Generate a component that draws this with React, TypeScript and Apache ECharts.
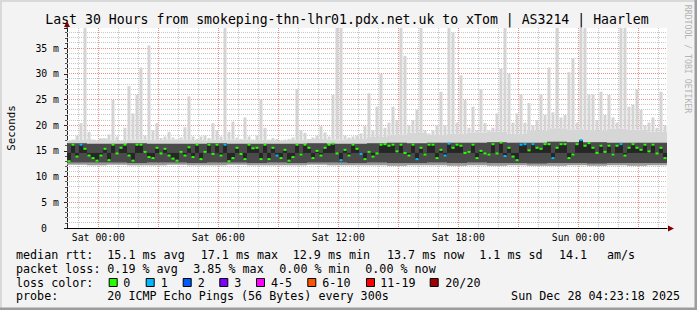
import React, { useEffect, useRef } from "react";
import * as echarts from "echarts";

const MONO = '"DejaVu Sans Mono", monospace';

const titleText = "Last 30 Hours from smokeping-thn-lhr01.pdx.net.uk to xTom | AS3214 | Haarlem";
const watermarkText = "RRDTOOL / TOBI OETIKER";
const yAxisTitle = "Seconds";

// time axis in hours relative to Sat 00:00
const startHour = -1.5667;
const spanHours = 30;
const slotHours = 0.2; // 12-minute slots
const slotsPerHour = 5;

// median RTT per 12-minute slot (ms)
const medianMs = [
  13.0, 16.2, 13.9, 16.2, 15.4, 14.1, 13.6, 13.1, 14.1, 15.4,
  13.2, 16.2, 14.5, 15.6, 16.2, 14.1, 13.1, 16.2, 16.2, 14.8,
  13.8, 13.6, 15.6, 14.5, 15.4, 14.1, 13.5, 13.1, 14.8, 14.1,
  15.7, 13.8, 16.2, 13.4, 14.8, 16.2, 14.4, 16.2,
  14.1, 16.2, 13.0, 13.6, 15.6, 14.4, 13.4, 16.2, 15.5, 15.6,
  13.4, 16.2, 13.4, 15.6, 14.1, 13.6, 15.2, 13.1, 13.8, 16.2,
  14.3, 16.2, 15.6, 13.6, 15.0, 14.1, 15.6, 16.2, 16.4, 14.5,
  13.2, 15.2, 14.1, 16.2, 15.4, 14.4, 13.4, 14.8,
  13.9, 14.5, 16.2, 16.3, 16.0, 16.2, 14.9, 16.2, 14.6, 14.1,
  16.2, 13.4, 15.6, 14.3, 16.2, 16.2, 13.6, 15.2, 14.1, 16.4,
  15.6, 16.2, 16.0, 14.6, 14.8, 16.2, 13.6, 15.0, 14.5, 14.3,
  16.3, 14.5, 16.6, 14.0, 15.6, 13.9, 13.2,
  16.2, 16.3, 15.1, 16.3, 15.6, 15.4, 16.3, 16.3, 13.6, 15.6,
  16.3, 16.3, 13.6, 14.3, 16.3, 17.1, 16.0, 16.5, 15.6, 14.6,
  16.0, 14.8, 16.0, 14.3, 16.0, 16.3, 14.1, 15.6, 16.3, 15.6,
  15.2, 16.2, 14.9, 16.2, 14.5, 15.6, 13.6,
];

// highest ping per slot (ms); values above the axis top are clipped
const maxMs = [
  17.0, 17.2, 18.0, 20.4, 42, 18.7, 17.2, 17.0, 17.5, 17.5,
  18.2, 24.9, 17.8, 17.0, 19.5, 27.6, 22.3, 25.9, 31.2, 18.0,
  35.5, 19.0, 20.4, 17.5, 17.8, 18.7, 17.6, 17.3, 17.6, 19.6,
  25.6, 17.8, 17.3, 17.8, 18.0, 17.5, 20.4, 19.0,
  17.8, 42, 18.7, 20.7, 17.6, 17.3, 21.5, 17.8, 17.2, 18.0,
  25.0, 19.5, 17.2, 17.5, 17.3, 17.0, 17.2, 17.3, 17.6, 27.0,
  19.0, 18.5, 17.3, 17.6, 18.0, 19.8, 18.6, 17.8, 25.9, 42,
  42, 18.0, 17.6, 17.8, 18.0, 18.4, 19.8, 26.2,
  19.0, 23.6, 30.0, 19.5, 20.5, 23.6, 21.0, 42, 33.5, 20.0,
  21.0, 23.0, 42, 19.0, 18.4, 19.0, 20.0, 26.5, 20.0, 42,
  38, 20.5, 29.7, 24.9, 19.5, 23.6, 19.0, 27.0, 20.4, 19.0,
  19.5, 22.3, 31.0, 42, 30.0, 20.5, 22.3,
  26.0, 20.5, 24.3, 20.0, 21.0, 26.0, 22.0, 31.2, 22.5, 42,
  21.5, 22.0, 30.3, 33.0, 20.5, 42, 42, 26.0, 26.0, 21.0,
  26.5, 22.0, 25.9, 21.5, 20.5, 42, 42, 23.6, 24.0, 27.0,
  23.0, 20.0, 20.5, 21.5, 19.5, 26.5, 20.0,
];

// slots whose median is drawn in the "1 lost" colour
const lossOneSlots = [3, 39, 52, 68, 73, 87, 94, 95, 109, 113, 114, 116, 121, 128, 138];

// hourly smoke envelope (ms)
const minHourly = [12.3, 12.2, 12.3, 12.2, 12.2, 12.3, 12.2, 12.2, 12.3, 12.2, 12.2, 12.2, 12.3, 12.2, 12.2, 12.2, 12.1, 12.2, 12.2, 12.1, 12.2, 12.1, 12.2, 12.1, 12.1, 12.2, 12.1, 12.2, 12.1, 12.2];
const bandLowHourly = [12.7, 12.7, 12.7, 12.6, 12.7, 12.7, 12.6, 12.7, 12.7, 12.6, 12.7, 12.6, 12.7, 12.7, 12.6, 12.7, 12.6, 12.6, 12.7, 12.6, 12.7, 12.6, 12.6, 12.5, 12.6, 12.6, 12.5, 12.6, 12.6, 12.6];
const bandHighHourly = [16.5, 16.4, 16.4, 16.5, 16.4, 16.4, 16.4, 16.5, 16.4, 16.4, 16.4, 16.4, 16.5, 16.4, 16.4, 16.5, 16.6, 16.5, 16.6, 16.6, 16.6, 16.7, 16.6, 16.6, 16.8, 16.7, 16.7, 16.6, 16.6, 16.6];
const upperHourly = [17.1, 17.4, 17.0, 17.2, 17.1, 17.2, 17.0, 17.1, 17.2, 17.0, 17.0, 17.1, 17.3, 17.2, 17.3, 17.7, 18.2, 18.5, 18.1, 18.3, 18.6, 18.7, 18.3, 18.9, 19.4, 19.2, 18.9, 19.3, 19.1, 18.7];

const yMax = 38.9;
const yInterval = 5;
const xLabelHours = [0, 6, 12, 18, 24];
const xLabelTexts = ["Sat 00:00", "Sat 06:00", "Sat 12:00", "Sat 18:00", "Sun 00:00"];

const rttRow = ["median rtt:", "15.1 ms avg", "17.1 ms max", "12.9 ms min", "13.7 ms now", "1.1 ms sd", "14.1", "am/s"];
const lossRow = ["packet loss:", "0.19 % avg", "3.85 % max", "0.00 % min", "0.00 % now"];
const lossColorTitle = "loss color:";
const lossLegendLabels = ["0", "1", "2", "3", "4-5", "6-10", "11-19", "20/20"];
const lossLegendColors = ["#26ff00", "#00b8ff", "#0059ff", "#7e00ff", "#ff00ff", "#ff5500", "#ff0000", "#a10000"];
const probeRow = ["probe:", "20 ICMP Echo Pings (56 Bytes) every 300s"];
const stampText = "Sun Dec 28 04:23:18 2025";

// layout (pixels)
const rttX = [16, 107.3, 200.7, 292.7, 387, 479.3, 559, 607];
const lossX = [16, 107.3, 193.3, 279.3, 365.3];
const swatchX = [108.7, 145.7, 182.7, 219.3, 256, 307.3, 366, 429.7];
const swatchLabelX = [123.3, 160.7, 197.7, 234.3, 271, 322.3, 380.3, 445.3];
const rowY = [255, 269, 283, 296];

const MINOR_GRID = "#c6c6c6";
const MAJOR_GRID = "#f29090";

export default function App() {
  const ref = useRef<HTMLDivElement>(null);

  useEffect(() => {
    const chart = echarts.init(ref.current!, null, { renderer: "svg" });

    const slotData = medianMs.map((m, i) => {
      const h = Math.floor(i / slotsPerHour);
      return [
        startHour + i * slotHours,
        startHour + (i + 1) * slotHours,
        minHourly[h],
        bandLowHourly[h],
        bandHighHourly[h],
        upperHourly[h],
        maxMs[i],
        m,
        lossOneSlots.includes(i) ? 1 : 0,
      ];
    });

    const hours: number[] = [];
    for (let h = Math.ceil(startHour); h < startHour + spanHours; h++) hours.push(h);
    const vGridData = hours.map((h) => [h, 0, Math.abs(h % 3) === 0 ? 1 : 0]);
    const msVals: number[] = [];
    for (let v = 1; v < yMax; v++) msVals.push(v);
    const hGridData = msVals.map((v) => [startHour, v, v % yInterval === 0 ? 1 : 0]);

    const txt = (text: string, x: number, y: number, extra: any = {}) => ({
      type: "text",
      x,
      y,
      silent: true,
      style: {
        text,
        fill: "#000",
        fontFamily: MONO,
        fontSize: 11.7,
        textAlign: "left",
        textVerticalAlign: "middle",
        ...extra,
      },
    });

    const graphics: any[] = [
      { type: "rect", shape: { x: 0, y: 0, width: 697, height: 2 }, style: { fill: "#d9d9d9" }, silent: true },
      { type: "rect", shape: { x: 0, y: 0, width: 2, height: 310 }, style: { fill: "#d9d9d9" }, silent: true },
      { type: "rect", shape: { x: 0, y: 307.5, width: 697, height: 2.5 }, style: { fill: "#9c9c9c" }, silent: true },
      { type: "rect", shape: { x: 694.5, y: 0, width: 2.5, height: 310 }, style: { fill: "#9c9c9c" }, silent: true },
      txt(titleText, 347, 19, { fontSize: 13.2, textAlign: "center" }),
      {
        type: "text",
        x: 688,
        y: 59,
        rotation: -Math.PI / 2,
        silent: true,
        style: { text: watermarkText, fill: "#b4b4b4", fontFamily: MONO, fontSize: 8.2, textAlign: "center", textVerticalAlign: "middle" },
      },
      { type: "rect", shape: { x: 66.5, y: 23, width: 1, height: 5 }, style: { fill: "#222" }, silent: true },
      { type: "polygon", shape: { points: [[64, 27], [70, 27], [67, 21]] }, style: { fill: "#7f0000" }, silent: true },
      { type: "polygon", shape: { points: [[668, 225.5], [668, 231.5], [674, 228.5]] }, style: { fill: "#7f0000" }, silent: true },
    ];
    rttRow.forEach((t, i) => graphics.push(txt(t, rttX[i], rowY[0])));
    lossRow.forEach((t, i) => graphics.push(txt(t, lossX[i], rowY[1])));
    graphics.push(txt(lossColorTitle, 16, rowY[2]));
    lossLegendLabels.forEach((t, i) => {
      graphics.push({
        type: "rect",
        silent: true,
        shape: { x: swatchX[i] + 0.5, y: 278.5, width: 8, height: 8 },
        style: { fill: lossLegendColors[i], stroke: "#000", lineWidth: 1 },
      });
      graphics.push(txt(t, swatchLabelX[i], rowY[2]));
    });
    graphics.push(txt(probeRow[0], 16, rowY[3]));
    graphics.push(txt(probeRow[1], 107.3, rowY[3]));
    graphics.push(txt(stampText, 680, rowY[3], { textAlign: "right" }));

    const option: any = {
      animation: false,
      backgroundColor: "#f3f3f3",
      grid: {
        left: 67,
        top: 28,
        width: 600,
        height: 200,
        show: true,
        backgroundColor: "#ffffff",
        borderWidth: 0,
        containLabel: false,
        outerBoundsMode: "none",
      },
      xAxis: {
        type: "value",
        min: startHour,
        max: startHour + spanHours,
        axisLine: { show: true, onZero: false, lineStyle: { color: "#000", width: 1 } },
        splitLine: { show: false },
        axisTick: { show: false },
        axisLabel: {
          customValues: xLabelHours,
          formatter: (v: number) => {
            const k = xLabelHours.indexOf(Math.round(v));
            return k >= 0 ? xLabelTexts[k] : "";
          },
          fontFamily: MONO,
          fontSize: 9.8,
          color: "#000",
          margin: 4,
        },
      },
      yAxis: {
        type: "value",
        min: 0,
        max: yMax,
        interval: yInterval,
        name: yAxisTitle,
        nameLocation: "middle",
        nameGap: 50,
        nameTextStyle: { fontFamily: MONO, fontSize: 10.8, color: "#000" },
        axisLine: { show: true, onZero: false, lineStyle: { color: "#222", width: 1 } },
        axisTick: { show: true, length: 3, lineStyle: { color: "#222" } },
        minorTick: { show: true, splitNumber: 5, length: 2, lineStyle: { color: "#555" } },
        splitLine: { show: false },
        axisLabel: {
          showMaxLabel: false,
          fontFamily: MONO,
          fontSize: 9.8,
          color: "#000",
          margin: 8,
          formatter: (v: number) => (v === 0 ? "{z|0}" : `${v} m`),
          rich: { z: { fontFamily: MONO, fontSize: 9.8, color: "#000", padding: [0, 12, 0, 0] } },
        },
      },
      series: [
        {
          type: "custom",
          z: 1,
          clip: false,
          silent: true,
          data: vGridData,
          renderItem: (params: any, api: any) => {
            const cs = params.coordSys;
            const px = api.coord([api.value(0), api.value(1)])[0];
            const x = Math.floor(px) + 0.5;
            return {
              type: "line",
              shape: { x1: x, y1: cs.y, x2: x, y2: cs.y + cs.height },
              style: { stroke: api.value(2) ? MAJOR_GRID : MINOR_GRID, lineWidth: 1, lineDash: [1, 1] },
            };
          },
        },
        {
          type: "custom",
          z: 1,
          clip: false,
          silent: true,
          data: hGridData,
          renderItem: (params: any, api: any) => {
            const cs = params.coordSys;
            const py = api.coord([api.value(0), api.value(1)])[1];
            const y = Math.floor(py) + 0.5;
            return {
              type: "line",
              shape: { x1: cs.x, y1: y, x2: cs.x + cs.width, y2: y },
              style: { stroke: api.value(2) ? MAJOR_GRID : MINOR_GRID, lineWidth: 1, lineDash: [1, 1] },
            };
          },
        },
        {
          type: "custom",
          z: 3,
          clip: true,
          silent: true,
          data: slotData,
          renderItem: (params: any, api: any) => {
            const cs = params.coordSys;
            const top = cs.y;
            const xa = api.value(0);
            const x0 = api.coord([xa, 0])[0];
            const x1 = api.coord([api.value(1), 0])[0];
            const w = x1 - x0;
            const Y = (v: number) => Math.max(top, api.coord([xa, v])[1]);
            const lo = api.value(2), bl = api.value(3), bh = api.value(4), up = api.value(5);
            const mx = api.value(6), md = api.value(7), loss = api.value(8);
            const midTop = Math.min(up, mx);
            const rect = (rx: number, rw: number, v1: number, v2: number, fill: string) => ({
              type: "rect",
              shape: { x: rx, y: Y(v2), width: rw, height: Y(v1) - Y(v2) },
              style: { fill },
            });
            const children: any[] = [];
            if (mx > midTop) children.push(rect(x0 + w / 2 - 1.5, 3, midTop, mx, "#d4d4d4"));
            children.push(rect(x0, w, bh, midTop, "#d6d6d6"));
            children.push(rect(x0, w, lo, bl, "#9a9a9a"));
            children.push(rect(x0, w, bl, bh, "#4a4a4a"));
            children.push(rect(x0, w, Math.min(md, 14.6), Math.max(md, 14.6), "#262626"));
            const my = api.coord([xa, md])[1];
            children.push({
              type: "rect",
              shape: { x: x0 + 0.5, y: my - 1, width: w - 1, height: 2 },
              style: { fill: loss ? lossLegendColors[1] : lossLegendColors[0] },
            });
            return { type: "group", children };
          },
        },
      ],
      graphic: graphics,
    };

    chart.setOption(option);
    return () => chart.dispose();
  }, []);

  return <div ref={ref} style={{ position: "absolute", left: 0, top: 0, width: 697, height: 310 }} />;
}
